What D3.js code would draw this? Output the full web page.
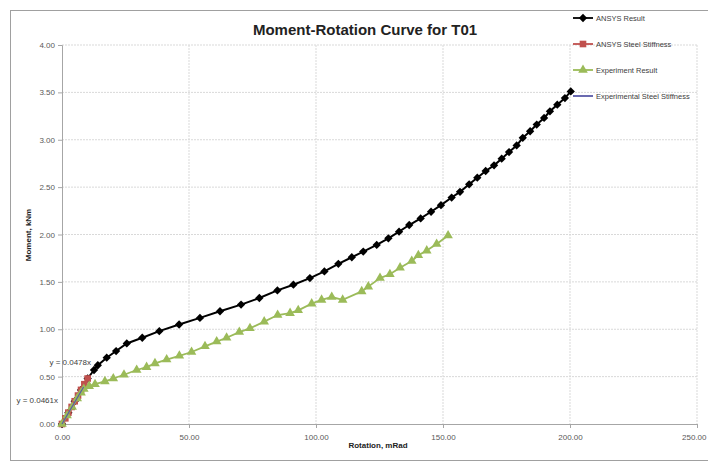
<!DOCTYPE html>
<html>
<head>
<meta charset="utf-8">
<script src="https://cdn.jsdelivr.net/npm/d3@7"></script>
<style>
  body { margin: 0; background: #fff; }
  svg { font-family: "Liberation Sans", Arial, sans-serif; }
</style>
</head>
<body>
<svg id="chart" width="708" height="466"></svg>
<script>
// Datos
const ansysResult = [
  [0, 0], [2.5, 0.12], [5, 0.24], [7.5, 0.36], [10.1, 0.48],
  [12.6, 0.57], [14.1, 0.62], [17.6, 0.70], [21.3, 0.77], [25.5, 0.85],
  [31.6, 0.91], [38.3, 0.98], [46.1, 1.05], [54.3, 1.12], [62.2, 1.19],
  [70.5, 1.26], [77.7, 1.33], [84.8, 1.41], [91.1, 1.47], [97.6, 1.54],
  [103.3, 1.61], [108.8, 1.69], [114.1, 1.76], [118.6, 1.82], [123.9, 1.89],
  [128.5, 1.96], [132.7, 2.03], [136.7, 2.10], [141.2, 2.17], [145.3, 2.24],
  [149.2, 2.31], [153.4, 2.39], [156.7, 2.45], [160.3, 2.53], [163.5, 2.60],
  [166.8, 2.67], [170.1, 2.73], [173.1, 2.80], [176.0, 2.87], [179.0, 2.94],
  [181.4, 3.02], [184.3, 3.09], [186.9, 3.16], [189.8, 3.23], [192.1, 3.30],
  [195.0, 3.37], [198.0, 3.44], [200.3, 3.51]
];
const ansysSteel = [
  [0, 0], [1.3, 0.06], [2.5, 0.12], [3.8, 0.18], [5.0, 0.24],
  [6.3, 0.30], [7.5, 0.36], [8.8, 0.42], [10.1, 0.48]
];
const experimentResult = [
  [0, 0], [2, 0.09], [4, 0.18], [6, 0.27], [7.5, 0.33], [8.6, 0.37],
  [10.7, 0.40], [13.0, 0.42], [16.9, 0.45], [20.2, 0.48], [24.4, 0.52],
  [29.4, 0.57], [33.3, 0.60], [36.6, 0.64], [41.2, 0.68], [46.2, 0.72],
  [51.0, 0.76], [56.3, 0.82], [60.9, 0.87], [64.8, 0.91], [69.8, 0.97],
  [74.0, 1.01], [79.6, 1.08], [84.9, 1.15], [89.8, 1.17], [93.0, 1.20],
  [98.3, 1.27], [102.2, 1.31], [106.2, 1.34], [110.5, 1.31], [118.0, 1.40],
  [120.6, 1.45], [125.2, 1.54], [129.1, 1.58], [133.1, 1.65], [137.7, 1.72],
  [140.3, 1.78], [143.6, 1.83], [147.5, 1.90], [152.0, 1.99]
];
const experimentSteel = [[0, 0], [8.5, 0.39]];

const xTicks = [0, 50, 100, 150, 200, 250];
const yTicks = [0, 0.5, 1, 1.5, 2, 2.5, 3, 3.5, 4];
const legendNames = ["ANSYS Result", "ANSYS Steel Stiffness", "Experiment Result", "Experimental Steel Stiffness"];
const trendLabels = ["y = 0.0478x", "y = 0.0461x"];

const svg = d3.select("#chart");

// Marco del gráfico
svg.append("rect")
  .attr("x", 10.5).attr("y", 10.5)
  .attr("width", 700).attr("height", 450)
  .attr("fill", "none").attr("stroke", "#a0a0a0");

const x = d3.scaleLinear().domain([0, 250]).range([62, 697]);
const y = d3.scaleLinear().domain([0, 4]).range([424, 45]);

// Rejilla
const grid = svg.append("g");
grid.selectAll(".gx").data(xTicks.slice(1)).enter().append("line")
  .attr("x1", d => x(d)).attr("x2", d => x(d))
  .attr("y1", y(4)).attr("y2", y(0))
  .attr("stroke", "#d9d9d9").attr("stroke-dasharray", "2,1");
grid.selectAll(".gy").data(yTicks.slice(1)).enter().append("line")
  .attr("x1", x(0)).attr("x2", x(250))
  .attr("y1", d => y(d)).attr("y2", d => y(d))
  .attr("stroke", "#d9d9d9").attr("stroke-dasharray", "2,1");

// Ejes
const xAxis = svg.append("g")
  .attr("transform", `translate(0,${y(0)})`)
  .call(d3.axisBottom(x).tickValues(xTicks).tickFormat(d3.format(".2f")).tickSize(4));
const yAxis = svg.append("g")
  .attr("transform", `translate(${x(0)},0)`)
  .call(d3.axisLeft(y).tickValues(yTicks).tickFormat(d3.format(".2f")).tickSize(4));
[xAxis, yAxis].forEach(a => {
  a.select(".domain").attr("stroke", "#a6a6a6");
  a.selectAll(".tick line").attr("stroke", "#a6a6a6");
  a.selectAll(".tick text").attr("fill", "#595959")
    .style("font-size", "8px").style("font-family", "Liberation Sans, Arial");
});
xAxis.selectAll(".tick text").attr("dy", "1.1em");
// la última etiqueta se queda dentro del marco
xAxis.selectAll(".tick text").filter(d => d === 250)
  .attr("text-anchor", "end").attr("dx", "9");

// Títulos
svg.append("text")
  .attr("x", 365).attr("y", 35)
  .attr("text-anchor", "middle")
  .style("font-size", "15px").style("font-weight", "bold")
  .attr("fill", "#222")
  .text("Moment-Rotation Curve for T01");

svg.append("text")
  .attr("x", 378).attr("y", 448)
  .attr("text-anchor", "middle")
  .style("font-size", "8px").style("font-weight", "bold")
  .attr("fill", "#222")
  .text("Rotation, mRad");

svg.append("text")
  .attr("transform", "translate(31,235) rotate(-90)")
  .attr("text-anchor", "middle")
  .style("font-size", "8px").style("font-weight", "bold")
  .attr("fill", "#222")
  .text("Moment, kNm");

const line = d3.line().x(d => x(d[0])).y(d => y(d[1]));
const diamond = d3.symbol().type(d3.symbolDiamond2).size(44);
const square = d3.symbol().type(d3.symbolSquare).size(44);
const triangle = d3.symbol().type(d3.symbolTriangle).size(40);

const series = [
  { data: ansysResult, color: "#000000", sym: diamond, w: 2 },
  { data: ansysSteel, color: "#c0504d", sym: square, w: 1.8 },
  { data: experimentResult, color: "#9bbb59", sym: triangle, w: 1.8 },
  { data: experimentSteel, color: "#5a5aa8", sym: null, w: 1.2 }
];

series.forEach(s => {
  svg.append("path")
    .datum(s.data)
    .attr("d", line)
    .attr("fill", "none")
    .attr("stroke", s.color)
    .attr("stroke-width", s.w);
  if (s.sym) {
    svg.append("g").selectAll("path")
      .data(s.data)
      .enter().append("path")
      .attr("d", s.sym)
      .attr("transform", d => `translate(${x(d[0])},${y(d[1])})`)
      .attr("fill", s.color);
  }
});

// Etiquetas de línea de tendencia
svg.append("text")
  .attr("x", 91).attr("y", 365)
  .attr("text-anchor", "end")
  .style("font-size", "8px").attr("fill", "#404040")
  .text(trendLabels[0]);
svg.append("text")
  .attr("x", 58).attr("y", 403)
  .attr("text-anchor", "end")
  .style("font-size", "8px").attr("fill", "#404040")
  .text(trendLabels[1]);

// Leyenda
const legend = svg.append("g");
legendNames.forEach((name, i) => {
  const s = series[i];
  const ly = 18 + i * 26;
  legend.append("line")
    .attr("x1", 573).attr("x2", 593)
    .attr("y1", ly).attr("y2", ly)
    .attr("stroke", s.color).attr("stroke-width", 1.8);
  if (s.sym) {
    legend.append("path")
      .attr("d", s.sym)
      .attr("transform", `translate(583,${ly})`)
      .attr("fill", s.color);
  }
  legend.append("text")
    .attr("x", 596).attr("y", ly + 3)
    .style("font-size", "7.5px")
    .attr("fill", "#404040")
    .text(name);
});
</script>
</body>
</html>
